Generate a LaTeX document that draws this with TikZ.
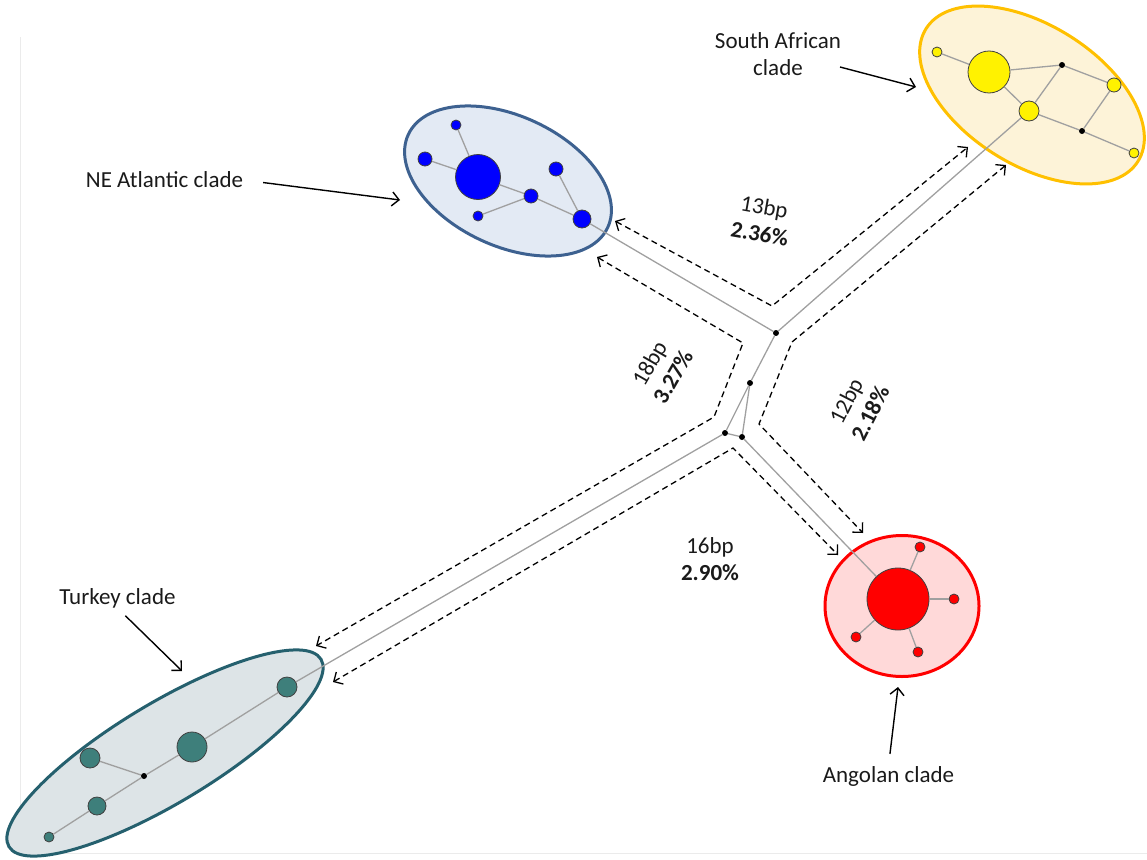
\documentclass[tikz,border=0pt]{standalone}
\usepackage{fontspec}
\setmainfont{Carlito}
\usetikzlibrary{shapes.geometric,arrows.meta}
\definecolor{neFill}{HTML}{E3EAF4}
\definecolor{neLine}{HTML}{3D6190}
\definecolor{saFill}{HTML}{FDF3D8}
\definecolor{saLine}{HTML}{FFC000}
\definecolor{anFill}{HTML}{FFD9D9}
\definecolor{anLine}{HTML}{FF0000}
\definecolor{tkFill}{HTML}{DDE4E7}
\definecolor{tkLine}{HTML}{25606E}
\definecolor{tkNode}{HTML}{3E7F7B}
\definecolor{haplYellow}{HTML}{FFF200}
\definecolor{edgeGray}{HTML}{A0A0A0}
\definecolor{txt}{HTML}{1A1A1A}
\begin{document}
\begin{tikzpicture}[x=1pt,y=-1pt,
 clade/.style={ellipse, draw, line width=3pt, inner sep=0pt},
 hap/.style={circle, draw=black!75, line width=0.8pt, inner sep=0pt, minimum size=#1},
 dot/.style={circle, fill=black, inner sep=0pt, minimum size=6pt},
 edge/.style={draw=edgeGray, line width=1.3pt},
 dpath/.style={dash pattern=on 6pt off 4pt, line width=1.3pt, {Straight Barb[length=7pt,width=14pt]}-{Straight Barb[length=7pt,width=14pt]}},
 callout/.style={line width=1.4pt, -{Straight Barb[length=7pt,width=14pt]}},
 lbl/.style={font=\fontsize{23}{27}\selectfont, text=txt, align=center, inner sep=0pt},
]
\useasboundingbox (0,0) rectangle (1147,859);
% faint frame
\draw[black!8, line width=1pt] (20,37) -- (20,853) -- (1147,853);

% clade ellipses
\node[clade, draw=neLine, fill=neFill, minimum width=220pt, minimum height=130pt, rotate=-25] (neE) at (508,181) {};
\node[clade, draw=saLine, fill=saFill, minimum width=250pt, minimum height=140pt, rotate=-32] (saE) at (1032,95) {};
\node[clade, draw=anLine, fill=anFill, minimum width=154pt, minimum height=141pt] (anE) at (902,606) {};
\node[clade, draw=tkLine, fill=tkFill, minimum width=364pt, minimum height=100pt, rotate=31] (tkE) at (165,753) {};

% dashed distance paths
\coordinate (p1a) at (615,221); \coordinate (p1b) at (772,306); \coordinate (p1c) at (968,147);
\coordinate (p2a) at (597,257); \coordinate (p2b) at (743,343); \coordinate (p2c) at (714,417); \coordinate (p2d) at (316,646);
\coordinate (p3a) at (1006,165); \coordinate (p3b) at (792,342); \coordinate (p3c) at (759,424); \coordinate (p3d) at (863,533);
\coordinate (p4a) at (333,682); \coordinate (p4b) at (733,448); \coordinate (p4c) at (838,555);
\draw[dpath] (p1a) -- (p1b) -- (p1c);
\draw[dpath] (p2a) -- (p2b) -- (p2c) -- (p2d);
\draw[dpath] (p3a) -- (p3b) -- (p3c) -- (p3d);
\draw[dpath] (p4a) -- (p4b) -- (p4c);

% NE Atlantic haplotypes
\node[hap=45pt, fill=blue] (b0) at (478,177) {};
\node[hap=10pt, fill=blue] (b1) at (456,125) {};
\node[hap=14pt, fill=blue] (b2) at (425,159) {};
\node[hap=14pt, fill=blue] (b3) at (531,196) {};
\node[hap=10pt, fill=blue] (b4) at (478,216) {};
\node[hap=14pt, fill=blue] (b5) at (556,169) {};
\node[hap=18pt, fill=blue] (b6) at (582,219) {};

% South African haplotypes
\node[hap=10pt, fill=haplYellow] (y1) at (937,52) {};
\node[hap=42pt, fill=haplYellow] (y0) at (989,72) {};
\node[dot] (yd1) at (1062,65) {};
\node[hap=14pt, fill=haplYellow] (y2) at (1114,85) {};
\node[hap=20pt, fill=haplYellow] (y3) at (1029,111) {};
\node[dot] (yd2) at (1082,131) {};
\node[hap=10pt, fill=haplYellow] (y4) at (1134,153) {};

% Angolan haplotypes
\node[hap=62pt, fill=red] (r0) at (898,599) {};
\node[hap=10pt, fill=red] (r1) at (920,547) {};
\node[hap=10pt, fill=red] (r2) at (954,599) {};
\node[hap=10pt, fill=red] (r3) at (918,652) {};
\node[hap=10pt, fill=red] (r4) at (856,637) {};

% Turkey haplotypes
\node[hap=20pt, fill=tkNode] (t1) at (287,687) {};
\node[hap=30pt, fill=tkNode] (t0) at (192,747) {};
\node[hap=20pt, fill=tkNode] (t2) at (90,758) {};
\node[dot] (td) at (144,776) {};
\node[hap=18pt, fill=tkNode] (t3) at (97,806) {};
\node[hap=10pt, fill=tkNode] (t4) at (49,837) {};

% central median vectors
\node[dot] (cA) at (776,333) {};
\node[dot] (cB) at (750,383) {};
\node[dot] (cC) at (725,433) {};
\node[dot] (cD) at (742,437) {};

% network edges
\draw[edge] (b0) -- (b1);
\draw[edge] (b0) -- (b2);
\draw[edge] (b0) -- (b3);
\draw[edge] (b3) -- (b4);
\draw[edge] (b3) -- (b6);
\draw[edge] (b5) -- (b6);
\draw[edge] (b6) -- (cA);
\draw[edge] (y1) -- (y0);
\draw[edge] (y0) -- (yd1);
\draw[edge] (y0) -- (y3);
\draw[edge] (yd1) -- (y2);
\draw[edge] (yd1) -- (y3);
\draw[edge] (y3) -- (yd2);
\draw[edge] (y2) -- (yd2);
\draw[edge] (yd2) -- (y4);
\draw[edge] (y3) -- (cA);
\draw[edge] (cA) -- (cB);
\draw[edge] (cB) -- (cC);
\draw[edge] (cB) -- (cD);
\draw[edge] (cC) -- (cD);
\draw[edge] (cC) -- (t1);
\draw[edge] (cD) -- (r0);
\draw[edge] (r0) -- (r1);
\draw[edge] (r0) -- (r2);
\draw[edge] (r0) -- (r3);
\draw[edge] (r0) -- (r4);
\draw[edge] (t4) -- (t3);
\draw[edge] (t3) -- (td);
\draw[edge] (td) -- (t0);
\draw[edge] (td) -- (t2);
\draw[edge] (t0) -- (t1);

% distance labels
\node[lbl, rotate=-10] (l13) at (762,220) {13bp\\\textbf{2.36\%}};
\node[lbl, rotate=60] (l18) at (661,370) {18bp\\\textbf{3.27\%}};
\node[lbl, rotate=63] (l12) at (858,407) {12bp\\\textbf{2.18\%}};
\node[lbl] (l16) at (710,559) {16bp\\\textbf{2.90\%}};

% clade labels and callouts
\node[lbl] (tNE) at (164.5,180) {NE Atlantic clade};
\node[lbl] (tSA) at (778,54) {South African\\clade};
\node[lbl] (tTK) at (117.5,598) {Turkey clade};
\node[lbl] (tAN) at (888.5,776) {Angolan clade};
\coordinate (aNE) at (400,200);
\coordinate (sSA) at (840,67);
\coordinate (aSA) at (916,87);
\coordinate (aTK) at (182,671);
\coordinate (aAN) at (898,687);
\draw[callout, shorten <=20pt] (tNE.east) -- (aNE);
\draw[callout] (sSA) -- (aSA);
\draw[callout, shorten <=11pt] (tTK.south) -- (aTK);
\draw[callout, shorten <=12pt] (tAN.north) -- (aAN);
\end{tikzpicture}
\end{document}
